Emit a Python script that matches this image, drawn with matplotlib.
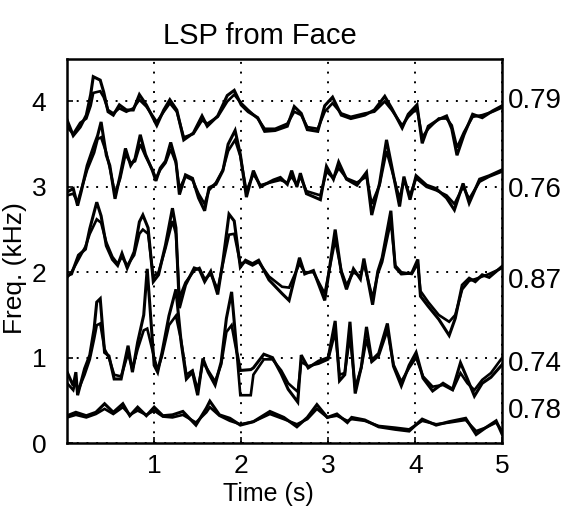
import matplotlib
matplotlib.use("Agg")
import matplotlib.pyplot as plt
import matplotlib.transforms as mtransforms

plt.rcParams['font.family'] = ['Liberation Sans', 'DejaVu Sans']

# ---- data (time in s, frequency in kHz) ----
t4 = [0.0, 0.07, 0.15, 0.22, 0.27, 0.30, 0.38, 0.42, 0.47, 0.53, 0.60, 0.68, 0.76, 0.83, 0.91, 1.03, 1.11, 1.18, 1.26, 1.34,
      1.45, 1.55, 1.61, 1.73, 1.84, 1.92, 2.00, 2.08, 2.19, 2.27, 2.39, 2.53, 2.61, 2.69, 2.76, 2.88, 2.96, 3.05, 3.15, 3.26,
      3.42, 3.53, 3.65, 3.73, 3.85, 3.92, 4.02, 4.08, 4.15, 4.27, 4.36, 4.42, 4.48, 4.56, 4.66, 4.77, 4.89, 5.0]
a4 = [3.78, 3.60, 3.70, 3.84, 4.08, 4.29, 4.25, 4.11, 3.88, 3.84, 3.96, 3.90, 3.90, 4.08, 3.96, 3.72, 3.90, 4.02, 3.90, 3.55,
      3.63, 3.83, 3.71, 3.83, 4.07, 4.13, 3.96, 3.88, 3.81, 3.65, 3.66, 3.71, 3.94, 3.86, 3.67, 3.65, 3.95, 4.05, 3.84, 3.80,
      3.84, 3.90, 4.06, 3.92, 3.69, 3.85, 3.96, 3.51, 3.71, 3.79, 3.83, 3.68, 3.37, 3.61, 3.85, 3.81, 3.89, 3.95]
b4 = [3.70, 3.62, 3.75, 3.80, 3.95, 4.10, 4.12, 4.05, 3.90, 3.86, 3.92, 3.88, 3.92, 4.02, 3.94, 3.76, 3.88, 3.98, 3.88, 3.58,
      3.62, 3.78, 3.74, 3.82, 4.00, 4.08, 3.98, 3.90, 3.80, 3.68, 3.68, 3.74, 3.88, 3.84, 3.70, 3.68, 3.88, 3.98, 3.86, 3.82,
      3.86, 3.88, 4.00, 3.90, 3.72, 3.82, 3.92, 3.58, 3.68, 3.80, 3.80, 3.72, 3.46, 3.64, 3.82, 3.84, 3.88, 3.93]

t3 = [0.0, 0.07, 0.12, 0.16, 0.23, 0.31, 0.35, 0.39, 0.45, 0.49, 0.55, 0.61, 0.67, 0.73, 0.78, 0.84, 0.90, 0.98, 1.02, 1.07,
      1.13, 1.19, 1.25, 1.29, 1.36, 1.44, 1.51, 1.58, 1.63, 1.71, 1.79, 1.85, 1.93, 1.99, 2.06, 2.14, 2.22, 2.37, 2.45, 2.53,
      2.58, 2.64, 2.68, 2.75, 2.91, 2.98, 3.06, 3.12, 3.21, 3.33, 3.44, 3.50, 3.59, 3.67, 3.73, 3.82, 3.87, 3.94, 4.01, 4.13,
      4.24, 4.36, 4.45, 4.55, 4.62, 4.74, 4.85, 5.0]
a3 = [2.94, 2.98, 2.78, 2.94, 3.25, 3.49, 3.60, 3.76, 3.37, 3.25, 2.86, 3.14, 3.45, 3.25, 3.33, 3.61, 3.38, 3.19, 3.07, 3.22,
      3.30, 3.52, 3.30, 2.91, 3.14, 3.10, 2.87, 2.72, 2.99, 3.03, 3.19, 3.50, 3.66, 3.38, 2.88, 3.19, 3.00, 3.08, 3.11, 3.03,
      3.19, 3.00, 3.16, 2.92, 2.85, 3.24, 3.09, 3.29, 3.09, 3.02, 3.17, 2.67, 3.04, 3.55, 3.24, 2.77, 3.12, 2.85, 3.13, 3.02,
      2.98, 2.87, 2.73, 3.04, 2.81, 3.09, 3.13, 3.20]
b3 = [2.90, 2.92, 2.82, 2.96, 3.20, 3.40, 3.56, 3.58, 3.40, 3.22, 2.92, 3.10, 3.38, 3.28, 3.30, 3.50, 3.36, 3.20, 3.10, 3.20,
      3.28, 3.44, 3.28, 2.98, 3.12, 3.08, 2.92, 2.80, 2.96, 3.05, 3.20, 3.42, 3.55, 3.36, 2.95, 3.15, 3.02, 3.06, 3.08, 3.05,
      3.12, 3.02, 3.12, 2.95, 2.90, 3.18, 3.10, 3.22, 3.10, 3.05, 3.12, 2.80, 3.02, 3.42, 3.20, 2.86, 3.08, 2.90, 3.10, 3.00,
      2.96, 2.90, 2.80, 3.00, 2.86, 3.06, 3.12, 3.18]

t2 = [0.0, 0.05, 0.13, 0.21, 0.26, 0.34, 0.39, 0.45, 0.52, 0.58, 0.63, 0.69, 0.77, 0.83, 0.87, 0.93, 0.99, 1.05, 1.13, 1.21,
      1.25, 1.29, 1.36, 1.46, 1.52, 1.58, 1.65, 1.73, 1.79, 1.86, 1.92, 1.99, 2.05, 2.13, 2.20, 2.32, 2.47, 2.55, 2.67, 2.73,
      2.83, 2.96, 3.08, 3.15, 3.21, 3.29, 3.37, 3.41, 3.51, 3.57, 3.62, 3.72, 3.77, 3.84, 3.96, 4.03, 4.06, 4.15, 4.27, 4.39,
      4.46, 4.54, 4.62, 4.69, 4.77, 4.85, 5.0]
a2 = [1.96, 1.98, 2.20, 2.27, 2.51, 2.82, 2.66, 2.31, 2.15, 2.08, 2.22, 2.05, 2.24, 2.59, 2.67, 2.52, 1.89, 1.97, 2.32, 2.75,
      2.52, 1.58, 1.85, 2.05, 2.03, 1.89, 2.01, 1.74, 2.13, 2.68, 2.60, 2.06, 2.14, 2.10, 2.14, 1.91, 1.75, 1.67, 2.17, 1.98,
      2.02, 1.67, 2.50, 2.00, 1.80, 2.04, 1.92, 2.16, 1.62, 2.01, 2.17, 2.72, 2.06, 1.98, 1.99, 2.15, 1.72, 1.60, 1.45, 1.26,
      1.46, 1.85, 1.93, 1.89, 1.97, 1.94, 2.07]
b2 = [1.94, 2.00, 2.15, 2.30, 2.45, 2.62, 2.58, 2.35, 2.18, 2.10, 2.18, 2.08, 2.20, 2.45, 2.50, 2.45, 1.95, 2.00, 2.28, 2.60,
      2.45, 1.70, 1.88, 2.02, 2.05, 1.92, 1.98, 1.80, 2.10, 2.44, 2.45, 2.10, 2.12, 2.08, 2.12, 1.95, 1.83, 1.82, 2.10, 2.00,
      2.00, 1.75, 2.38, 2.02, 1.85, 2.00, 1.95, 2.10, 1.70, 1.98, 2.12, 2.60, 2.08, 2.00, 1.98, 2.10, 1.78, 1.65, 1.50, 1.42,
      1.50, 1.80, 1.90, 1.92, 1.95, 1.98, 2.05]

t1 = [0.0, 0.07, 0.10, 0.12, 0.20, 0.26, 0.31, 0.34, 0.38, 0.43, 0.48, 0.54, 0.62, 0.70, 0.75, 0.81, 0.88, 0.92, 1.00, 1.04,
      1.09, 1.17, 1.25, 1.31, 1.37, 1.44, 1.50, 1.56, 1.62, 1.70, 1.77, 1.83, 1.89, 1.95, 1.99, 2.11, 2.14, 2.26, 2.36, 2.46,
      2.54, 2.65, 2.69, 2.77, 2.89, 3.00, 3.08, 3.13, 3.19, 3.25, 3.31, 3.38, 3.44, 3.50, 3.58, 3.68, 3.75, 3.84, 3.93, 4.01,
      4.09, 4.20, 4.32, 4.43, 4.52, 4.60, 4.68, 4.77, 4.87, 5.0]
a1 = [0.83, 0.67, 0.83, 0.56, 0.87, 1.03, 1.34, 1.65, 1.69, 1.06, 1.02, 0.75, 0.75, 1.14, 0.83, 1.18, 1.50, 2.04, 0.91, 0.83,
      1.06, 1.49, 1.80, 1.18, 0.75, 0.83, 0.56, 0.99, 0.83, 0.68, 0.95, 1.46, 1.77, 1.07, 0.85, 0.86, 0.88, 1.04, 1.00, 0.81,
      0.63, 0.48, 1.03, 0.88, 0.96, 1.00, 1.43, 0.73, 0.80, 1.42, 0.58, 0.89, 1.36, 0.97, 1.05, 1.40, 0.90, 0.67, 0.91, 1.06,
      0.76, 0.61, 0.70, 0.63, 0.94, 0.75, 0.55, 0.70, 0.77, 0.92]
b1 = [0.70, 0.62, 0.75, 0.60, 0.80, 0.98, 1.22, 1.38, 1.40, 1.10, 1.00, 0.80, 0.78, 1.05, 0.86, 1.10, 1.32, 1.34, 1.00, 0.86,
      1.02, 1.38, 1.49, 1.20, 0.80, 0.85, 0.62, 0.95, 0.85, 0.72, 0.92, 1.30, 1.38, 1.05, 0.56, 0.56, 0.80, 0.98, 0.98, 0.85,
      0.70, 0.60, 0.95, 0.90, 0.93, 0.98, 1.30, 0.80, 0.82, 1.25, 0.65, 0.88, 1.22, 0.95, 1.02, 1.32, 0.92, 0.72, 0.88, 1.00,
      0.78, 0.66, 0.68, 0.62, 0.82, 0.70, 0.62, 0.74, 0.82, 1.00]

t0 = [0.0, 0.10, 0.22, 0.33, 0.43, 0.53, 0.64, 0.72, 0.81, 0.91, 1.00, 1.10, 1.21, 1.33, 1.48, 1.60, 1.64, 1.75, 1.87, 1.99,
      2.14, 2.33, 2.49, 2.64, 2.76, 2.87, 2.99, 3.10, 3.22, 3.27, 3.42, 3.58, 3.77, 3.93, 4.08, 4.24, 4.39, 4.58, 4.70, 4.81,
      4.93, 5.0]
a0 = [0.32, 0.36, 0.32, 0.36, 0.46, 0.36, 0.46, 0.32, 0.42, 0.32, 0.42, 0.32, 0.33, 0.37, 0.21, 0.41, 0.49, 0.33, 0.29, 0.21,
      0.25, 0.37, 0.30, 0.19, 0.30, 0.45, 0.30, 0.34, 0.24, 0.30, 0.27, 0.19, 0.16, 0.14, 0.28, 0.21, 0.25, 0.29, 0.10, 0.18,
      0.26, 0.10]
b0 = [0.30, 0.33, 0.30, 0.34, 0.40, 0.34, 0.42, 0.33, 0.38, 0.33, 0.38, 0.31, 0.30, 0.33, 0.24, 0.36, 0.42, 0.32, 0.26, 0.22,
      0.25, 0.34, 0.28, 0.22, 0.28, 0.40, 0.30, 0.32, 0.26, 0.28, 0.26, 0.20, 0.18, 0.16, 0.26, 0.22, 0.24, 0.27, 0.14, 0.18,
      0.24, 0.14]

corr_labels = ["0.78", "0.74", "0.87", "0.76", "0.79"]
corr_pos = [0.37, 0.92, 1.90, 2.96, 4.00]

x_ticks = [1, 2, 3, 4, 5]
y_ticks = [0, 1, 2, 3, 4]

# ---- figure ----
fig = plt.figure(figsize=(5.84, 5.2), dpi=100)
ax = fig.add_axes([0.115, 0.148, 0.745, 0.739])

for t, a, b in [(t4, a4, b4), (t3, a3, b3), (t2, a2, b2), (t1, a1, b1), (t0, a0, b0)]:
    ax.plot(t, b, color='black', lw=1.9, solid_joinstyle='miter')
    ax.plot(t, a, color='black', lw=2.2, solid_joinstyle='miter')

ax.set_xlim(0, 5)
ax.set_ylim(0, 4.5)
ax.set_xticks(x_ticks)
ax.set_yticks(y_ticks)
ax.set_xticklabels([str(v) for v in x_ticks], fontsize=19)
ax.set_yticklabels([str(v) for v in y_ticks], fontsize=19)
ax.tick_params(direction='in', length=4, width=1.2, pad=8, top=False, right=False)
ax.tick_params(axis='y', pad=15)
ax.grid(True, color='black', linestyle=(0, (1, 4)), linewidth=1.4)
for s in ax.spines.values():
    s.set_linewidth(1.8)

trans = mtransforms.blended_transform_factory(ax.transAxes, ax.transData)
for lab, pos in zip(corr_labels, corr_pos):
    ax.text(1.012, pos, lab, transform=trans, fontsize=20, va='center', ha='left')

fig.text(260 / 584, 1 - 36 / 520, "LSP from Face", fontsize=21, ha='center', va='center')
fig.text(268 / 584, 1 - 494 / 520, "Time (s)", fontsize=18, ha='center', va='center')
fig.text(15 / 584, 1 - 268 / 520, "Freq. (kHz)", fontsize=19, ha='center', va='center', rotation=90)

fig.savefig("out.png", dpi=100)
